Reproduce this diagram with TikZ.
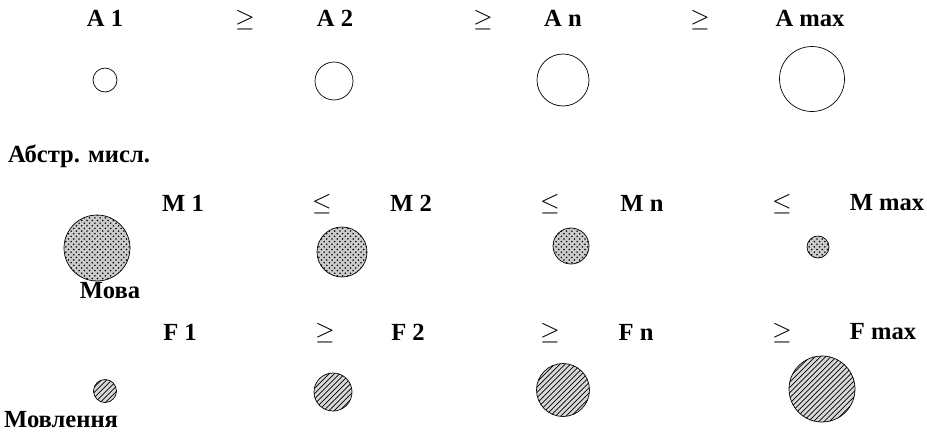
\documentclass[tikz,border=0pt]{standalone}
\usepackage{fontspec}
\setmainfont{Liberation Serif}
\usetikzlibrary{patterns}

\tikzset{
  lbl/.style={font=\bfseries\fontsize{14}{16}\selectfont, inner sep=1pt},
  rel/.style={font=\fontsize{14}{16}\selectfont, inner sep=1pt},
  ring/.style={circle, draw, thin, inner sep=0pt, minimum size=#1},
  dotball/.style={circle, draw, thin, inner sep=0pt, minimum size=#1,
    preaction={fill=gray!40}, pattern=crosshatch dots},
  hatchball/.style={circle, draw, thin, inner sep=0pt, minimum size=#1,
    preaction={fill=gray!30}, pattern=north east lines},
}

\begin{document}
\begin{tikzpicture}[x=0.02cm, y=-0.02cm]
    \useasboundingbox (0,0) rectangle (927,434);

    % Row A: abstract thinking
    \node[lbl] (a1t) at (105,18) {A 1};
    \node[rel] (ra1) at (245,20) {$\geq$};
    \node[lbl] (a2t) at (335,18) {A 2};
    \node[rel] (ra2) at (483,20) {$\geq$};
    \node[lbl] (ant) at (563,18) {A n};
    \node[rel] (ra3) at (700,20) {$\geq$};
    \node[lbl] (amt) at (810,18) {A max};

    \node[ring=0.48cm] (a1) at (105,80) {};
    \node[ring=0.76cm] (a2) at (334,81) {};
    \node[ring=1.04cm] (an) at (563,80) {};
    \node[ring=1.3cm] (am) at (812,79) {};

    \node[lbl, anchor=west] (abstr) at (6,156) {Абстр. мисл.};

    % Row M: language
    \node[lbl] (m1t) at (183,203) {M 1};
    \node[rel] (rm1) at (322,204) {$\leq$};
    \node[lbl] (m2t) at (411,203) {M 2};
    \node[rel] (rm2) at (550,204) {$\leq$};
    \node[lbl] (mnt) at (642,203) {M n};
    \node[rel] (rm3) at (782,204) {$\leq$};
    \node[lbl] (mmt) at (887,203) {M max};

    \node[dotball=1.32cm] (m1) at (97,248) {};
    \node[dotball=1.0cm] (m2) at (342,252) {};
    \node[dotball=0.72cm] (mn) at (571,246) {};
    \node[dotball=0.44cm] (mm) at (818,247) {};

    \node[lbl] (mova) at (110,291) {Мова};

    % Row F: speech
    \node[lbl] (f1t) at (180,332) {F 1};
    \node[rel] (rf1) at (325,333) {$\geq$};
    \node[lbl] (f2t) at (408,332) {F 2};
    \node[rel] (rf2) at (550,333) {$\geq$};
    \node[lbl] (fnt) at (636,332) {F n};
    \node[rel] (rf3) at (782,333) {$\geq$};
    \node[lbl] (fmt) at (883,332) {F max};

    \node[hatchball=0.46cm] (f1) at (105,391) {};
    \node[hatchball=0.76cm] (f2) at (333,392) {};
    \node[hatchball=1.06cm] (fn) at (563,390) {};
    \node[hatchball=1.32cm] (fm) at (822,389) {};

    \node[lbl, anchor=west] (movl) at (2,420) {Мовлення};
\end{tikzpicture}
\end{document}
